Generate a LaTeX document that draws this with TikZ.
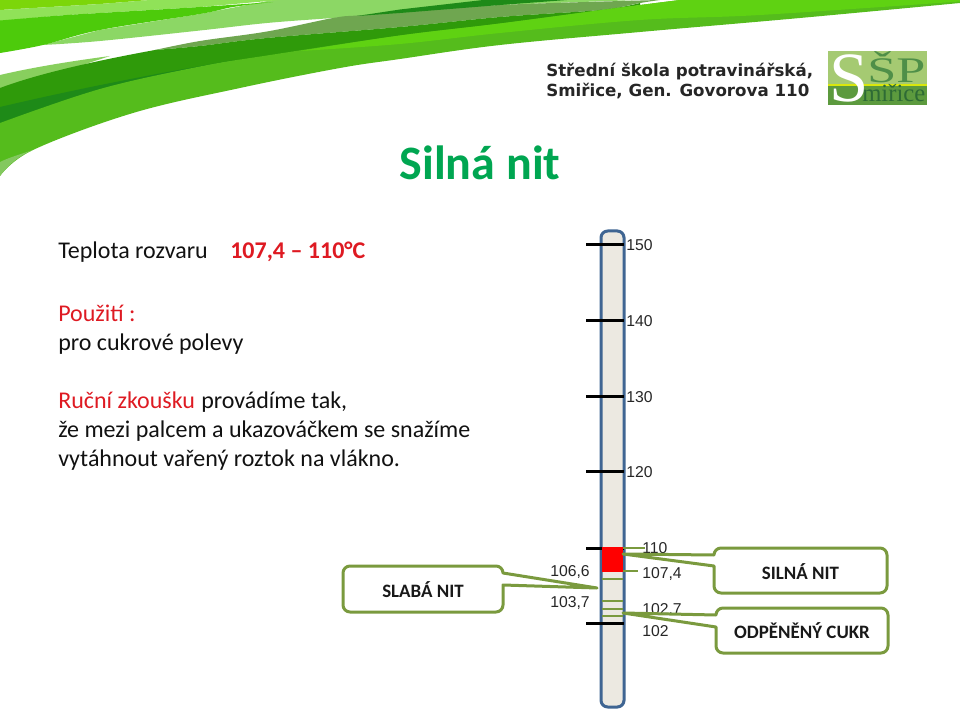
\documentclass[tikz,border=0pt]{standalone}
\usepackage{fontspec}
\setmainfont{Carlito}
\newfontfamily\labelfont{Liberation Sans}
\newfontfamily\schoolfont{DejaVu Sans}
\newfontfamily\logofont{Liberation Serif}
\definecolor{calloutgreen}{HTML}{7A9A3E}
\definecolor{tubeblue}{HTML}{3F6592}
\definecolor{tubefill}{HTML}{ECE9E1}
\definecolor{titlegreen}{HTML}{00A651}
\definecolor{redtext}{HTML}{DE1A22}
\definecolor{bodydark}{HTML}{111111}
\definecolor{rbright}{HTML}{55BC1C}
\definecolor{rbrighttwo}{HTML}{5FD212}
\definecolor{rdark}{HTML}{2F9A0A}
\definecolor{rdarker}{HTML}{1E8A18}
\definecolor{rgrey}{HTML}{6FA650}
\definecolor{rlight}{HTML}{8CD765}
\definecolor{rtop}{HTML}{4DCB0B}
\definecolor{rpale}{HTML}{90E258}
\definecolor{ryellow}{HTML}{7CD60A}
\definecolor{rleftpale}{HTML}{88CF5E}
\definecolor{logolight}{HTML}{A5CA72}
\definecolor{logodark}{HTML}{5C9A3E}
\definecolor{logotext}{HTML}{4F8F48}
\definecolor{logotexttwo}{HTML}{2E6B35}
\tikzset{
  body/.style={anchor=base west,inner sep=0pt,font=\fontsize{18}{18}\selectfont,text=bodydark},
  redbody/.style={body,text=redtext},
  scalelabel/.style={anchor=base west,inner sep=0pt,font=\labelfont\fontsize{11.8}{12}\selectfont,text=black!85},
  tick/.style={line width=2.25pt,black},
  callout/.style={line width=2.25pt,calloutgreen,fill=white,line join=round},
  leader/.style={line width=1.6pt,calloutgreen},
  calltext/.style={inner sep=0pt,font=\fontsize{14.2}{15}\selectfont\bfseries,text=black!90},
  curve/.style={smooth,tension=0.6},
}
\begin{document}
\begin{tikzpicture}[x=0.75pt,y=-0.75pt]
\useasboundingbox (0,0) rectangle (960,712);
% ribbons: upper group
\fill[rlight] (43,45) -- (100,30) -- (200,14) -- (273,0) -- (640,0) --
  plot[curve] coordinates {(640,0) (483,6) (400,13) (333,18) (267,23) (200,30.5) (100,41) (43,45)} -- cycle;
\fill[ryellow] (0,0) -- (150,0) -- (100,4) -- (0,10) -- cycle;
\fill[rpale] (0,10) -- (100,4) -- (150,0) -- (280,0) -- (200,7) -- (100,13) -- (60,15.5) -- (0,21) -- cycle;
\fill[rtop] (0,20.5) -- plot[curve] coordinates {(0,20.5) (60,15.5) (100,13) (200,7) (273,2)} --
  plot[curve] coordinates {(273,2) (233,7) (200,14) (100,30) (43,45) (0,53)} -- cycle;
% lower group
\fill[rleftpale] (0,75) .. controls (30,68) and (65,62) .. (110,56) -- (0,92) -- cycle;
\fill[rgrey] plot[curve] coordinates {(155,50) (200,41) (267,31.5) (333,18) (357,15.5) (400,12.5) (500,5) (660,0)} --
  plot[curve] coordinates {(660,0) (640,3) (600,10) (500,17) (400,27) (267,38) (200,46) (155,50)} -- cycle;
\fill[rdarker] (357,16) -- (400,9.5) -- (483,0) -- (567,0) -- (500,5) -- (400,13) -- cycle;
\fill[rdark] (0,88) .. controls (40,73) and (100,60) .. (155,50) --
  plot[curve] coordinates {(155,50) (200,46) (267,38) (400,27) (500,17) (600,10) (640,3)} --
  plot[curve] coordinates {(640,5) (613,9) (500,24) (400,36) (267,56) (200,67) (100,90) (0,125)} -- cycle;
\fill[rdarker] (0,107) .. controls (60,93) and (130,78) .. (235,60) -- (200,67) -- (100,90) -- (0,124) -- cycle;
\fill[rbright] plot[curve] coordinates {(0,123) (100,89) (200,66.5) (267,55.5) (400,35.5) (500,23.5) (613,8.5) (680,0)} -- (960,0) -- (960,3) --
  plot[curve] coordinates {(960,3) (800,18) (640,32) (500,45) (400,59) (340,68) (240,88) (133,113) (33,150) (0,176)} -- cycle;
\fill[rbrighttwo] plot[curve] coordinates {(300,51) (400,35.5) (500,23.5) (613,8.5) (680,0)} -- (960,0) -- (960,1.5) --
  plot[curve] coordinates {(960,1.5) (760,15) (640,20) (500,33) (400,44) (300,51)} -- cycle;
\fill[rlight!70!rgrey] (0,176) .. controls (8,165) and (20,155) .. (33,150) .. controls (18,155) and (8,158) .. (0,162) -- cycle;
% school text
\node[anchor=base west,inner sep=0pt,font=\schoolfont\fontsize{12.5}{13}\selectfont\bfseries,text=black!85] (school1) at (546,76.5) {Střední škola potravinářská,};
\node[anchor=base west,inner sep=0pt,font=\schoolfont\fontsize{12.5}{13}\selectfont\bfseries,text=black!85] (school2) at (546,97) {Smiřice, Gen. Govorova 110};
% logo
\fill[logolight] (828,51) rectangle (927,85);
\fill[logodark] (828,85) rectangle (927,105);
\draw[line width=1pt,yellow!85!green] (828,85) -- (927,85);
\node[anchor=base west,inner sep=0pt,font=\logofont\fontsize{27}{27}\selectfont,text=logotext] (logoSP) at (867,83) {\scalebox{1.45}[1]{ŠP}};
\node[anchor=base west,inner sep=0pt,font=\logofont\fontsize{18.5}{19}\selectfont,text=logotexttwo] (logoM) at (862,102) {miřice};
\node[anchor=base west,inner sep=0pt,font=\logofont\fontsize{53}{53}\selectfont,text=white] (logoS) at (829,102) {S};
% title
\node[inner sep=0pt,anchor=base,font=\fontsize{36}{36}\selectfont\bfseries,text=titlegreen] (title) at (480,180) {Silná nit};
% left text
\node[body] (t1) at (58,259) {Teplota rozvaru};
\node[redbody,font=\fontsize{18}{18}\selectfont\bfseries] (t2) at (230,259) {107,4 – 110°C};
\node[redbody] (t3) at (58,322) {Použití :};
\node[body] (t4) at (58,351) {pro cukrové polevy};
\node[redbody] (t5) at (58,409) {Ruční zkoušku};
\node[body] (t6) at (201,409) {provádíme tak,};
\node[body] (t7) at (58,438) {že mezi palcem a ukazováčkem se snažíme};
\node[body] (t8) at (58,467) {vytáhnout vařený roztok na vlákno.};
% thermometer
\draw[line width=2.25pt,tubeblue,fill=tubefill,rounded corners=5pt] (601,231) rectangle (624,707);
\foreach \yy/\nm in {245/a,321/b,397/c,472/d,548/e,623/f}{
  \coordinate (tl\nm) at (586,\yy);
  \coordinate (tr\nm) at (624,\yy);
  \draw[tick] (tl\nm) -- (tr\nm);
}
\fill[red] (602,547) rectangle (623,571.5);
\foreach \yy/\nm in {579/a,601/b,609/c,616/d}{
  \coordinate (bl\nm) at (602,\yy);
  \coordinate (br\nm) at (623,\yy);
  \draw[line width=1.2pt,calloutgreen] (bl\nm) -- (br\nm);
}
\coordinate (lead110a) at (623,548);
\coordinate (lead110b) at (645,548);
\coordinate (lead107a) at (623,571);
\coordinate (lead107b) at (638,571);
\draw[leader] (lead110a) -- (lead110b);
\draw[leader] (lead107a) -- (lead107b);
\node[scalelabel] (n150) at (626,251) {150};
\node[scalelabel] (n140) at (626,326.5) {140};
\node[scalelabel] (n130) at (626,402.5) {130};
\node[scalelabel] (n120) at (626,478) {120};
\node[scalelabel] (n110) at (642,553.5) {110};
\node[scalelabel] (n1074) at (642,578) {107,4};
\node[scalelabel] (n1027) at (642,614.5) {102,7};
\node[scalelabel] (n102) at (642,636.5) {102};
\node[scalelabel] (n1066) at (550,576) {106,6};
\node[scalelabel] (n1037) at (550,607) {103,7};
% callouts
\coordinate (tipA) at (597,588);
\draw[callout] (503,573) -- (tipA) -- (503,585)
  -- (503,605) arc[start angle=0,end angle=90,radius=7] -- (350,612)
  arc[start angle=90,end angle=180,radius=7] -- (343,573)
  arc[start angle=180,end angle=270,radius=7] -- (496,566)
  arc[start angle=-90,end angle=0,radius=7] -- cycle;
\node[calltext] (slaba) at (423,589.5) {SLABÁ NIT};
\coordinate (tipB) at (623,554);
\draw[callout] (714,555) -- (tipB) -- (714,566)
  -- (714,586) arc[start angle=180,end angle=90,radius=7] -- (880,593)
  arc[start angle=90,end angle=0,radius=7] -- (887,555)
  arc[start angle=0,end angle=-90,radius=7] -- (721,548)
  arc[start angle=270,end angle=180,radius=7] -- cycle;
\node[calltext] (silna) at (800.5,572) {SILNÁ NIT};
\coordinate (tipC) at (623,613);
\draw[callout] (716,615) -- (tipC) -- (716,627)
  -- (716,646) arc[start angle=180,end angle=90,radius=7] -- (881,653)
  arc[start angle=90,end angle=0,radius=7] -- (888,615)
  arc[start angle=0,end angle=-90,radius=7] -- (723,608)
  arc[start angle=270,end angle=180,radius=7] -- cycle;
\node[calltext] (odp) at (802,631) {ODPĚNĚNÝ CUKR};
\end{tikzpicture}
\end{document}
